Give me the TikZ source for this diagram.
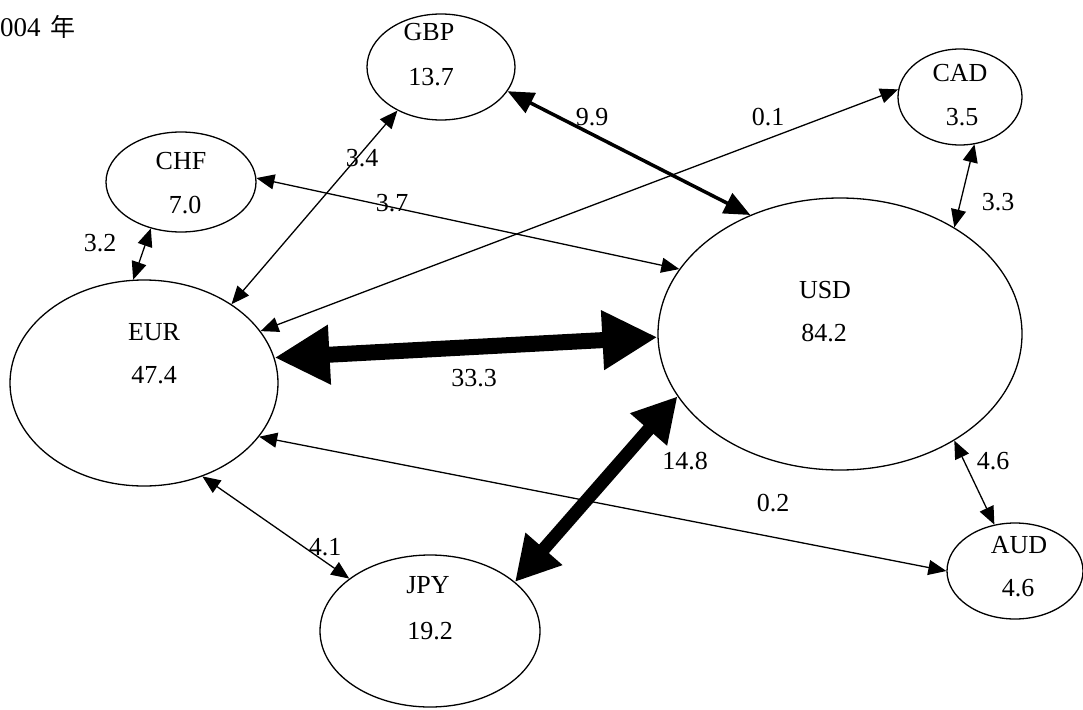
\documentclass[tikz,border=0pt]{standalone}
\usepackage{fontspec}
\setmainfont{Liberation Serif}
\newfontfamily\cjk{Noto Sans CJK SC}
\usetikzlibrary{arrows.meta,shapes.geometric}

\tikzset{
    cur/.style={draw, ellipse, line width=1.3pt, inner sep=0pt},
    txt/.style={inner sep=0pt, font=\fontsize{26}{30}\selectfont},
    flow/.style={line width=1.3pt, {Triangle[length=18pt,width=15pt]}-{Triangle[length=18pt,width=15pt]}},
    flowmid/.style={line width=3.5pt, {Triangle[length=26pt,width=22pt]}-{Triangle[length=26pt,width=22pt]}},
    flowbig/.style={line width=13pt, {Triangle[length=44pt,width=46pt]}-{Triangle[length=44pt,width=46pt]}},
    flowhuge/.style={line width=16pt, {Triangle[length=55pt,width=56pt]}-{Triangle[length=55pt,width=56pt]}},
}

\begin{document}
\begin{tikzpicture}[x=1pt, y=-1pt]
        \useasboundingbox (0,0) rectangle (1083,709);

        \node[anchor=west, txt, font=\fontsize{27}{30}\selectfont] (year) at (0,27) {004\hspace{10pt}{\cjk\fontsize{25}{28}\selectfont 年}};

        % currencies
        \node[cur, minimum width=148pt, minimum height=106pt] (gbp) at (441,67) {};
        \node[cur, minimum width=124pt, minimum height=96pt] (cad) at (960,97) {};
        \node[cur, minimum width=150pt, minimum height=100pt] (chf) at (181,182) {};
        \node[cur, minimum width=364pt, minimum height=272pt] (usd) at (840,334) {};
        \node[cur, minimum width=268pt, minimum height=206pt] (eur) at (144,383) {};
        \node[cur, minimum width=220pt, minimum height=152pt] (jpy) at (430,631) {};
        \node[cur, minimum width=136pt, minimum height=96pt] (aud) at (1015,571) {};

        \node[txt] (gbpn) at (429,32) {GBP};
        \node[txt] (gbpv) at (431,77) {13.7};
        \node[txt] (cadn) at (960,73) {CAD};
        \node[txt] (cadv) at (962,117) {3.5};
        \node[txt] (chfn) at (181,161) {CHF};
        \node[txt] (chfv) at (185,205) {7.0};
        \node[txt] (usdn) at (825,290) {USD};
        \node[txt] (usdv) at (824,333) {84.2};
        \node[txt] (eurn) at (154,332) {EUR};
        \node[txt] (eurv) at (154,375) {47.4};
        \node[txt] (jpyn) at (428,585) {JPY};
        \node[txt] (jpyv) at (430,631) {19.2};
        \node[txt] (audn) at (1019,545) {AUD};
        \node[txt] (audv) at (1018,588) {4.6};

        % flows
        \draw[flowmid] (gbp.-20.7) -- (usd.127.2);
        \draw[flow] (cad.173.6) -- (eur.24.8);
        \draw[flow] (chf.3) -- (usd.158.8);
        \draw[flow] (eur.42.2) -- (gbp.-135);
        \draw[flow] (chf.-123) -- (eur.96.7);
        \draw[flow] (cad.-73.3) -- (usd.43.6);
        \draw[flowhuge] (eur.11) -- (usd.181);
        \draw[flowbig] (usd.201.5) -- (jpy.30.6);
        \draw[flow] (usd.-43.1) -- (aud.114.6);
        \draw[flow] (eur.-25.9) -- (aud.180);
        \draw[flow] (eur.-58.6) -- (jpy.147);

        \node[txt] (l1) at (592,117) {9.9};
        \node[txt] (l2) at (768,117) {0.1};
        \node[txt] (l3) at (362,158) {3.4};
        \node[txt] (l4) at (392,203) {3.7};
        \node[txt] (l5) at (100,243) {3.2};
        \node[txt] (l6) at (998,202) {3.3};
        \node[txt] (l7) at (474,378) {33.3};
        \node[txt] (l8) at (685,461) {14.8};
        \node[txt] (l9) at (993,461) {4.6};
        \node[txt] (l10) at (773,503) {0.2};
        \node[txt] (l11) at (325,547) {4.1};
    \end{tikzpicture}
\end{document}
